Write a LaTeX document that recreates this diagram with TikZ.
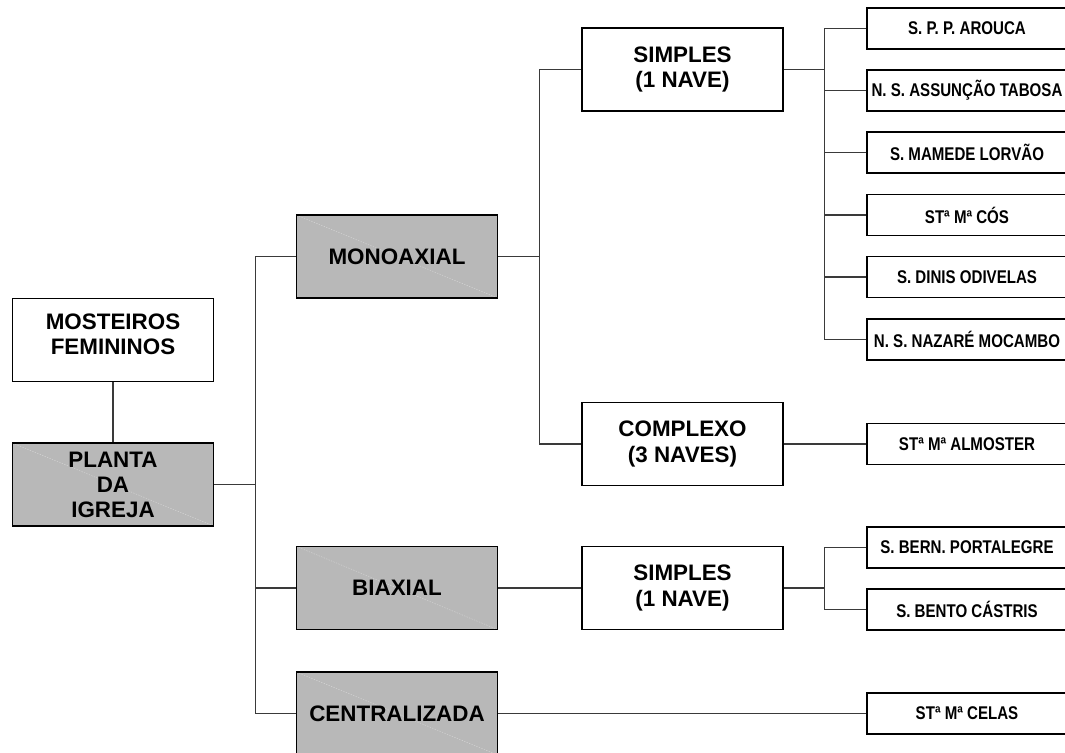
\documentclass[tikz,border=0pt]{standalone}
\usepackage{fontspec}
\setmainfont{Liberation Sans}
\newfontfamily\narrowfont[FakeStretch=0.82]{Liberation Sans}
\definecolor{boxgray}{HTML}{B8B8B8}
\definecolor{linegray}{HTML}{3A3A3A}
\usetikzlibrary{calc, positioning}

\tikzset{
   mainbox/.style={draw=black, line width=1pt, fill=white, inner sep=0pt,
      minimum width=150.75pt, minimum height=62.25pt, align=center,
      font=\fontsize{16.8}{18.8}\selectfont\bfseries},
   graybox/.style={mainbox, fill=boxgray,
      path picture={\draw[white!45!boxgray, dash pattern=on 1pt off 1pt, line width=0.3pt]
         (path picture bounding box.north west) -- (path picture bounding box.south east);}},
   leafbox/.style={draw=black, line width=1pt, fill=white, inner sep=0pt,
      minimum width=150pt, minimum height=30.75pt, align=center,
      font=\narrowfont\fontsize{13.8}{15}\selectfont\bfseries},
   link/.style={draw=linegray, line width=0.8pt}
}

\begin{document}
\begin{tikzpicture}[x=0.75pt, y=-0.75pt]
      \useasboundingbox (0,0) rectangle (1065,753);
      % Root
      \node[mainbox] (most) at (113,340) {MOSTEIROS\\FEMININOS\\[-10pt]\mbox{}};
      \node[graybox] (planta) at (113,484.5) {PLANTA\\DA\\IGREJA};
      % Plan types
      \node[graybox] (mono) at (397,256.5) {MONOAXIAL};
      \node[graybox] (biax) at (397,588) {BIAXIAL};
      \node[graybox] (centr) at (397,713.5) {CENTRALIZADA};
      % Naves
      \node[mainbox] (simpmono) at (682.5,69.5) {SIMPLES\\(1 NAVE)};
      \node[mainbox] (complexo) at (682.5,444) {COMPLEXO\\(3 NAVES)};
      \node[mainbox] (simpbiax) at (682.5,588) {SIMPLES\\(1 NAVE)};
      % Monasteries
      \node[leafbox] (arouca) at (967,28.5) {S. P. P. AROUCA};
      \node[leafbox] (tabosa) at (967,90.5) {N. S. ASSUNÇÃO TABOSA};
      \node[leafbox] (lorvao) at (967,152.5) {S. MAMEDE LORVÃO};
      \node[leafbox] (cos) at (967,215) {STª Mª CÓS};
      \node[leafbox] (odivelas) at (967,277) {S. DINIS ODIVELAS};
      \node[leafbox] (mocambo) at (967,339.5) {N. S. NAZARÉ MOCAMBO};
      \node[leafbox] (almoster) at (967,444) {STª Mª ALMOSTER};
      \node[leafbox] (portalegre) at (967,547.5) {S. BERN. PORTALEGRE};
      \node[leafbox] (castris) at (967,609.5) {S. BENTO CÁSTRIS};
      \node[leafbox] (celas) at (967,713.5) {STª Mª CELAS};
      % Links
      \draw[link] (most.south) -- (planta.north);
      \foreach \n in {mono, biax, centr}
         \draw[link] (\n.west) -- ++(-40,0) |- (planta.east);
      \foreach \n in {simpmono, complexo}
         \draw[link] (\n.west) -- ++(-41.5,0) |- (mono.east);
      \draw[link] (biax.east) -- (simpbiax.west);
      \foreach \n in {arouca, tabosa, lorvao, cos, odivelas, mocambo}
         \draw[link] (\n.west) -- ++(-42,0) |- (simpmono.east);
      \draw[link] (complexo.east) -- (almoster.west);
      \foreach \n in {portalegre, castris}
         \draw[link] (\n.west) -- ++(-42,0) |- (simpbiax.east);
      \draw[link] (centr.east) -- (celas.west);
   \end{tikzpicture}
\end{document}
